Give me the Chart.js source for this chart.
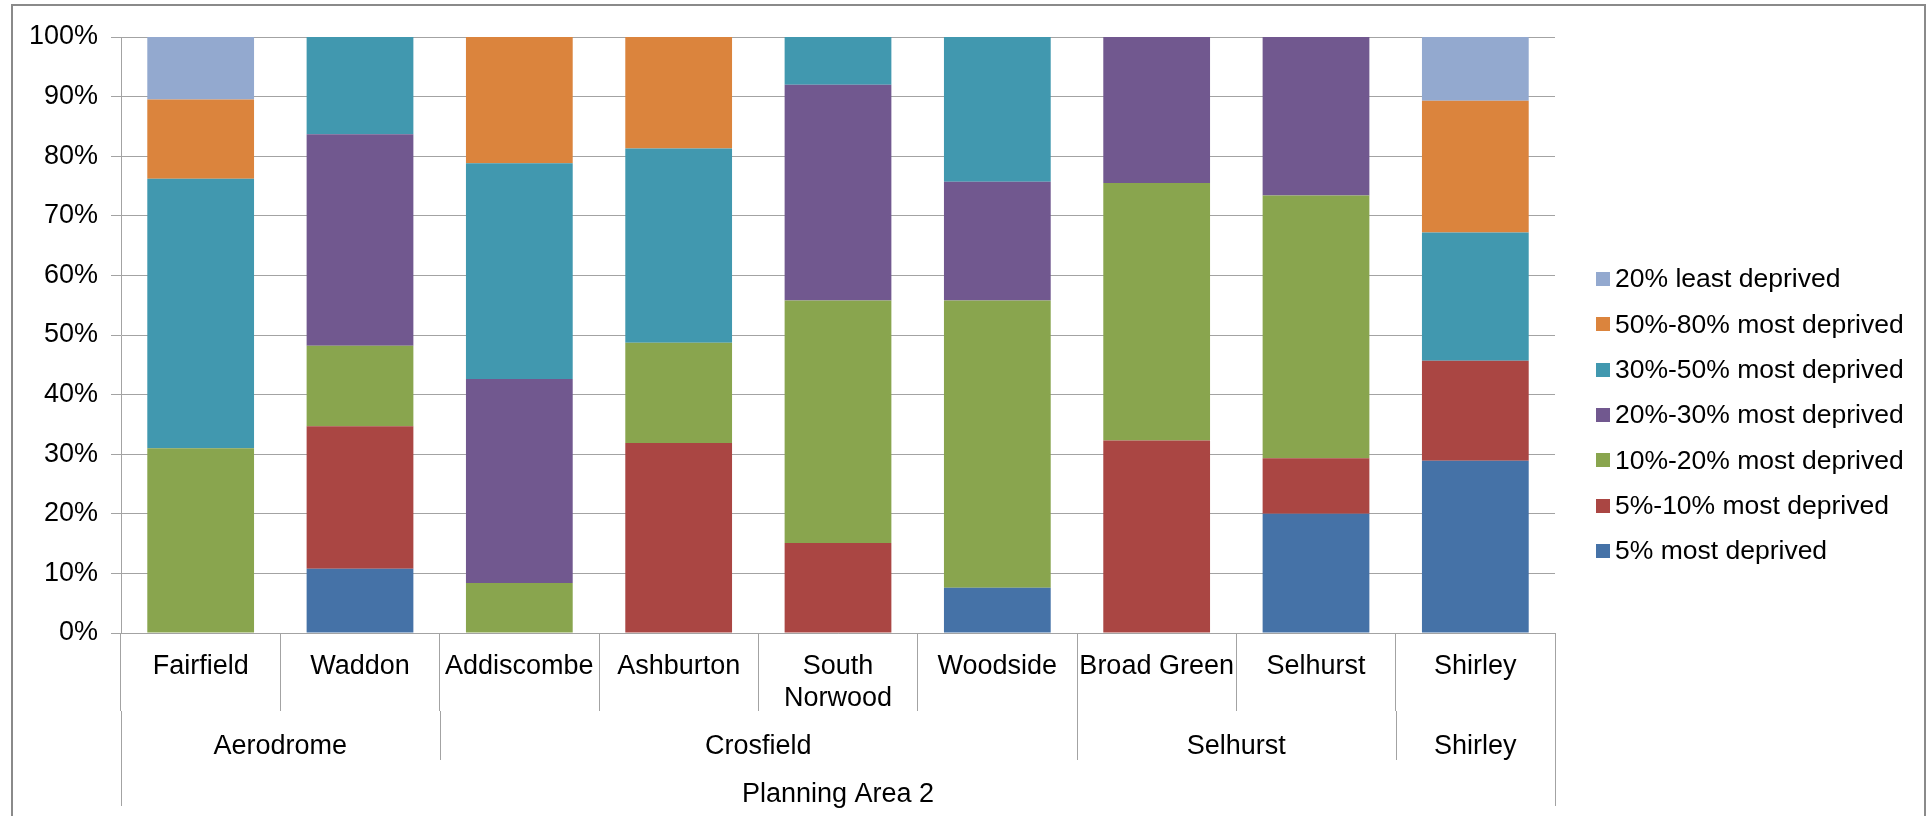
<!DOCTYPE html>
<html>
<head>
<meta charset="utf-8">
<title>Deprivation by ward - Planning Area 2</title>
<script src="https://cdn.jsdelivr.net/npm/chart.js@4.4.1/dist/chart.umd.min.js"></script>
<style>
  html, body { margin: 0; padding: 0; background: #fff; overflow: hidden; }
  #frame { position: absolute; left: 11px; top: 4px; width: 1911px; height: 900px; border: 2px solid #8a8a8a; }
  #wrap { position: absolute; left: 0; top: 0; width: 1930px; height: 816px; }
</style>
</head>
<body>
<div id="frame"></div>
<div id="wrap"><canvas id="chart"></canvas></div>
<script>
  // three level category axis: ward / ward group / planning area
  var wards = ["Fairfield", "Waddon", "Addiscombe", "Ashburton", ["South", "Norwood"],
               "Woodside", "Broad Green", "Selhurst", "Shirley"];
  var wardGroups = ["Aerodrome", "Aerodrome", "Crosfield", "Crosfield", "Crosfield",
                    "Crosfield", "Selhurst", "Selhurst", "Shirley"];
  var areaName = "Planning Area 2";

  var yTicks = [0, 10, 20, 30, 40, 50, 60, 70, 80, 90, 100];

  // % of population in each deprivation band (bottom band first)
  var most5      = [0,    10.8, 0,    0,    0,    7.6,  0,    20.0, 28.9];
  var most5to10  = [0,    23.9, 0,    31.9, 15.1, 0,    32.3, 9.3,  16.8];
  var most10to20 = [31.0, 13.5, 8.4,  16.8, 40.7, 48.2, 43.2, 44.1, 0];
  var most20to30 = [0,    35.5, 34.2, 0,    36.2, 19.9, 24.5, 26.6, 0];
  var most30to50 = [45.2, 16.3, 36.2, 32.6, 8.0,  24.3, 0,    0,    21.5];
  var most50to80 = [13.3, 0,    21.2, 18.7, 0,    0,    0,    0,    22.1];
  var least20    = [10.5, 0,    0,    0,    0,    0,    0,    0,    10.7];

  var bandNames = ["5% most deprived", "5%-10% most deprived", "10%-20% most deprived",
                   "20%-30% most deprived", "30%-50% most deprived", "50%-80% most deprived",
                   "20% least deprived"];
  var bandValues = [most5, most5to10, most10to20, most20to30, most30to50, most50to80, least20];
  var bandColours = ["#4572A7", "#AA4643", "#89A54E", "#71588F", "#4198AF", "#DB843D", "#93A9CF"];

  var FONT = "'Liberation Sans', Arial, sans-serif";
  var gridColour = "#a3a3a3";

  Chart.defaults.font.family = FONT;
  Chart.defaults.color = "#000";

  // draws the ward group and planning area rows under the ward labels
  var groupAxis = {
    id: "groupAxis",
    afterDraw: function(chart) {
      var x = chart.scales.x;
      var ctx = chart.ctx;
      var half = (x.getPixelForValue(1) - x.getPixelForValue(0)) / 2;
      var top = chart.chartArea.bottom;
      var tier1 = top + 78, tier2 = top + 127, tier3 = top + 173;

      ctx.save();
      ctx.strokeStyle = gridColour;
      ctx.lineWidth = 1;
      function vline(px, y0, y1) {
        var xx = Math.round(px) + 0.5;
        ctx.beginPath();
        ctx.moveTo(xx, y0);
        ctx.lineTo(xx, y1);
        ctx.stroke();
      }
      ctx.fillStyle = "#000";
      ctx.font = "27px " + FONT;
      ctx.textAlign = "center";
      ctx.textBaseline = "middle";

      var start = 0;
      for (var i = 1; i <= wardGroups.length; i++) {
        if (i == wardGroups.length || wardGroups[i] != wardGroups[start]) {
          var l = x.getPixelForValue(start) - half;
          var r = x.getPixelForValue(i - 1) + half;
          vline(l, tier1, tier2);
          vline(r, tier1, tier2);
          ctx.fillText(wardGroups[start], (l + r) / 2, top + 114);
          start = i;
        }
      }
      vline(x.left, tier2, tier3);
      vline(x.right, tier2, tier3);
      ctx.fillText(areaName, (x.left + x.right) / 2, top + 162);
      ctx.restore();
    }
  };

  // legend to the right of the plot, top band first like the Excel original
  var sideLegend = {
    id: "sideLegend",
    afterDraw: function(chart) {
      var ctx = chart.ctx;
      var ds = chart.data.datasets;
      var bx = chart.chartArea.right + 41;
      var y = 279;
      ctx.save();
      ctx.font = "26.5px " + FONT;
      ctx.textBaseline = "middle";
      ctx.textAlign = "left";
      for (var i = ds.length - 1; i >= 0; i--) {
        ctx.fillStyle = ds[i].backgroundColor;
        ctx.fillRect(bx, Math.round(y - 7), 14, 14);
        ctx.fillStyle = "#000";
        ctx.fillText(ds[i].label, bx + 19, y + 1);
        y += 45.3;
      }
      ctx.restore();
    }
  };

  var datasets = [];
  for (var i = 0; i < bandNames.length; i++) {
    datasets.push({
      label: bandNames[i],
      data: bandValues[i],
      backgroundColor: bandColours[i],
      borderWidth: 0,
      barPercentage: 0.67,
      categoryPercentage: 1.0
    });
  }

  var chart = new Chart("chart", {
    type: "bar",
    data: { labels: wards, datasets: datasets },
    plugins: [groupAxis, sideLegend],
    options: {
      responsive: true,
      maintainAspectRatio: false,
      animation: false,
      layout: { padding: { top: 37, right: 375, bottom: 0, left: 0 } },
      plugins: {
        tooltip: { enabled: false },
        legend: { display: false }
      },
      scales: {
        x: {
          stacked: true,
          afterFit: function(scale) { scale.height = 183; },
          grid: {
            offset: true,
            drawOnChartArea: false,
            tickLength: 78,
            color: gridColour
          },
          border: { color: gridColour },
          ticks: {
            autoSkip: false,
            maxRotation: 0,
            padding: -61,
            font: { size: 27 },
            color: "#000"
          }
        },
        y: {
          stacked: true,
          min: 0,
          max: 100,
          afterFit: function(scale) { scale.width = 121; },
          afterBuildTicks: function(scale) {
            scale.ticks = yTicks.map(function(v) { return { value: v }; });
          },
          grid: { color: gridColour, tickLength: 10 },
          border: { color: gridColour },
          ticks: {
            padding: 13,
            font: { size: 27 },
            color: "#000",
            callback: function(v) { return v + "%"; }
          }
        }
      }
    }
  });
</script>
</body>
</html>
